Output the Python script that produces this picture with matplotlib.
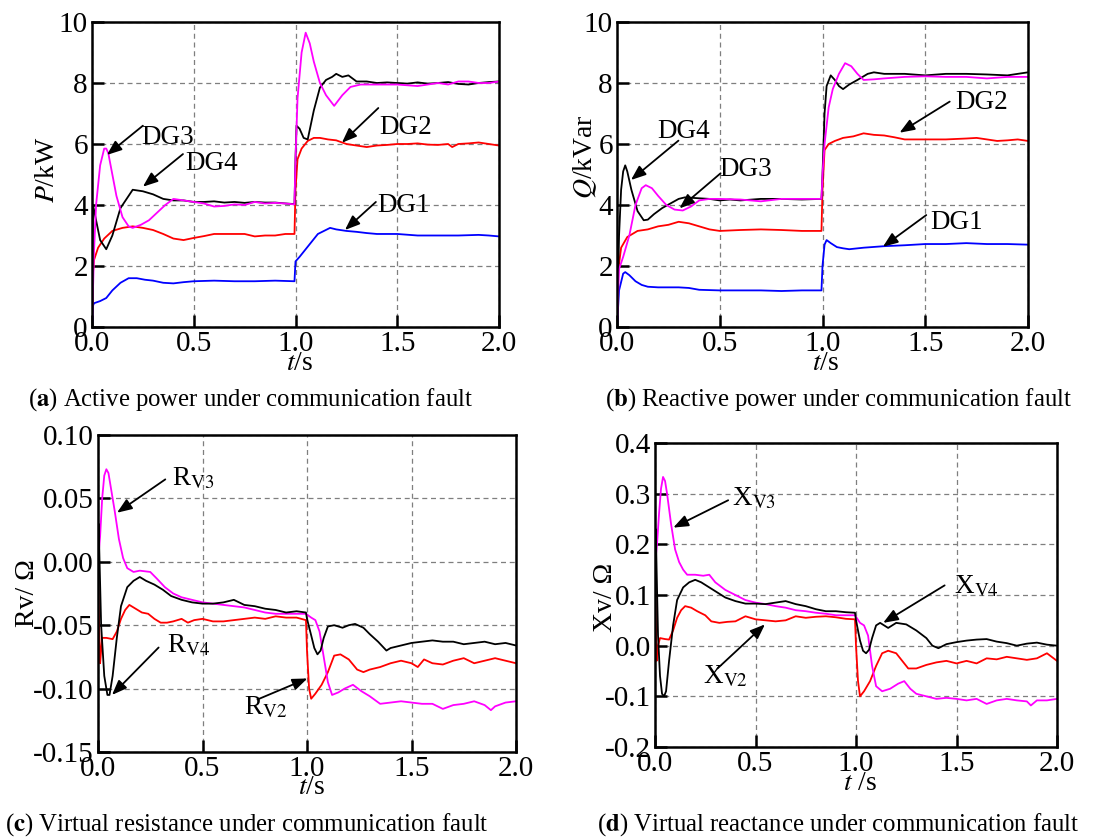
import matplotlib
matplotlib.use("Agg")
import matplotlib.pyplot as plt

# ---- panel (a): active power P/kW ----
a_dg4_t = [0, 0.005, 0.02, 0.04, 0.07, 0.1, 0.14, 0.2, 0.25, 0.3, 0.35, 0.4, 0.45, 0.5, 0.55, 0.6, 0.65, 0.7,
           0.75, 0.8, 0.85, 0.9, 0.95, 0.995, 1.0, 1.005, 1.02, 1.04, 1.06, 1.09, 1.12, 1.15, 1.18, 1.2, 1.23,
           1.26, 1.3, 1.35, 1.4, 1.45, 1.5, 1.55, 1.6, 1.65, 1.7, 1.75, 1.8, 1.85, 1.9, 1.95, 2.0]
a_dg4 = [0, 4.0, 3.5, 2.85, 2.55, 3.0, 3.9, 4.5, 4.45, 4.35, 4.2, 4.15, 4.15, 4.1, 4.1, 4.12, 4.08, 4.1,
         4.07, 4.1, 4.08, 4.08, 4.05, 4.03, 5.5, 6.6, 6.5, 6.2, 6.15, 7.1, 7.85, 8.1, 8.2, 8.3, 8.2,
         8.25, 8.05, 8.05, 8.0, 8.02, 8.0, 7.98, 8.02, 7.98, 8.0, 8.03, 7.97, 7.95, 8.0, 8.03, 8.05]
a_dg3_t = [0, 0.01, 0.02, 0.04, 0.06, 0.07, 0.08, 0.1, 0.12, 0.15, 0.18, 0.2, 0.24, 0.28, 0.32, 0.36, 0.4, 0.45,
           0.5, 0.55, 0.6, 0.65, 0.7, 0.75, 0.8, 0.85, 0.9, 0.95, 0.995, 1.0, 1.01, 1.03, 1.05, 1.07, 1.09, 1.12,
           1.15, 1.19, 1.23, 1.27, 1.32, 1.4, 1.5, 1.6, 1.65, 1.7, 1.75, 1.8, 1.85, 1.9, 1.95, 2.0]
a_dg3 = [0, 2.5, 4.0, 5.3, 5.85, 5.85, 5.7, 5.0, 4.3, 3.6, 3.3, 3.25, 3.35, 3.5, 3.75, 4.0, 4.2, 4.15,
         4.1, 4.05, 3.95, 3.97, 4.02, 4.0, 4.1, 4.05, 4.07, 4.05, 4.02, 5.5, 7.5, 9.0, 9.65, 9.3, 8.7, 8.0,
         7.6, 7.25, 7.6, 7.87, 7.95, 7.95, 7.95, 7.9, 7.95, 8.0, 7.95, 8.05, 8.05, 8.0, 8.0, 8.05]
a_dg2_t = [0, 0.005, 0.01, 0.03, 0.06, 0.1, 0.15, 0.2, 0.25, 0.3, 0.35, 0.4, 0.45, 0.5, 0.55, 0.6, 0.65, 0.7,
           0.75, 0.8, 0.85, 0.9, 0.95, 0.995, 1.0, 1.01, 1.03, 1.06, 1.09, 1.12, 1.16, 1.2, 1.25, 1.3, 1.35,
           1.4, 1.45, 1.5, 1.55, 1.6, 1.65, 1.7, 1.75, 1.77, 1.8, 1.85, 1.9, 1.95, 2.0]
a_dg2 = [0, 1.8, 2.2, 2.6, 2.9, 3.15, 3.25, 3.3, 3.25, 3.18, 3.05, 2.9, 2.85, 2.92, 2.98, 3.05, 3.05, 3.05,
         3.05, 2.97, 3.0, 3.0, 3.05, 3.05, 4.5, 5.5, 5.85, 6.1, 6.2, 6.2, 6.15, 6.12, 6.0, 5.95, 5.9,
         5.95, 5.97, 6.0, 6.0, 6.02, 5.98, 5.97, 6.0, 5.9, 6.0, 6.02, 6.05, 6.0, 5.95]
a_dg1_t = [0, 0.005, 0.01, 0.04, 0.07, 0.1, 0.14, 0.18, 0.22, 0.26, 0.3, 0.35, 0.4, 0.45, 0.5, 0.6, 0.7, 0.8,
           0.9, 0.995, 1.0, 1.02, 1.05, 1.08, 1.11, 1.14, 1.17, 1.2, 1.25, 1.3, 1.35, 1.4, 1.5, 1.6, 1.7,
           1.8, 1.9, 1.95, 2.0]
a_dg1 = [0, 0.7, 0.78, 0.85, 0.95, 1.2, 1.45, 1.6, 1.6, 1.55, 1.52, 1.45, 1.43, 1.47, 1.5, 1.52, 1.5, 1.5,
         1.52, 1.5, 2.15, 2.3, 2.55, 2.8, 3.05, 3.15, 3.25, 3.2, 3.15, 3.12, 3.08, 3.05, 3.05, 3.0, 3.0,
         3.0, 3.02, 3.0, 2.97]

# ---- panel (b): reactive power Q/kVar ----
b_dg4_t = [0, 0.01, 0.02, 0.03, 0.04, 0.05, 0.07, 0.1, 0.13, 0.15, 0.18, 0.22, 0.26, 0.3, 0.33, 0.4, 0.45, 0.5,
           0.55, 0.6, 0.7, 0.8, 0.9, 0.995, 1.0, 1.01, 1.02, 1.04, 1.06, 1.08, 1.1, 1.13, 1.17, 1.22, 1.25,
           1.3, 1.4, 1.5, 1.6, 1.7, 1.8, 1.9, 1.95, 2.0]
b_dg4 = [0, 3.0, 4.5, 5.1, 5.3, 5.1, 4.5, 3.8, 3.5, 3.52, 3.7, 3.9, 4.05, 4.2, 4.25, 4.22, 4.2, 4.15,
         4.18, 4.15, 4.2, 4.2, 4.18, 4.2, 5.0, 7.0, 7.9, 8.25, 8.1, 7.9, 7.8, 7.95, 8.1, 8.3, 8.35,
         8.3, 8.3, 8.25, 8.3, 8.3, 8.28, 8.25, 8.3, 8.35]
b_dg3_t = [0, 0.01, 0.03, 0.06, 0.09, 0.12, 0.14, 0.17, 0.2, 0.24, 0.28, 0.32, 0.36, 0.4, 0.45, 0.5, 0.6, 0.7,
           0.8, 0.9, 0.995, 1.0, 1.01, 1.03, 1.05, 1.08, 1.11, 1.14, 1.17, 1.2, 1.25, 1.3, 1.4, 1.5, 1.6,
           1.7, 1.8, 1.9, 2.0]
b_dg3 = [0, 1.9, 2.3, 3.0, 4.0, 4.55, 4.65, 4.55, 4.3, 4.0, 3.85, 3.82, 3.95, 4.15, 4.2, 4.2, 4.18, 4.12,
         4.2, 4.2, 4.2, 5.0, 6.0, 7.2, 7.8, 8.3, 8.65, 8.55, 8.3, 8.1, 8.12, 8.15, 8.2, 8.22, 8.2,
         8.2, 8.15, 8.2, 8.2]
b_dg2_t = [0, 0.005, 0.02, 0.05, 0.1, 0.15, 0.2, 0.25, 0.3, 0.35, 0.4, 0.45, 0.5, 0.6, 0.7, 0.8, 0.9, 0.995,
           1.0, 1.01, 1.03, 1.06, 1.1, 1.15, 1.2, 1.25, 1.3, 1.35, 1.4, 1.5, 1.6, 1.7, 1.75, 1.8, 1.85,
           1.9, 1.95, 2.0]
b_dg2 = [0, 1.8, 2.6, 2.95, 3.15, 3.2, 3.3, 3.35, 3.45, 3.4, 3.3, 3.2, 3.15, 3.18, 3.2, 3.18, 3.15, 3.15,
         4.5, 5.8, 6.0, 6.1, 6.2, 6.25, 6.35, 6.3, 6.28, 6.22, 6.15, 6.15, 6.15, 6.18, 6.2, 6.15, 6.1,
         6.12, 6.15, 6.1]
b_dg1_t = [0, 0.01, 0.03, 0.04, 0.06, 0.09, 0.12, 0.15, 0.2, 0.3, 0.35, 0.4, 0.5, 0.6, 0.7, 0.8, 0.9, 0.995,
           1.0, 1.01, 1.02, 1.04, 1.07, 1.1, 1.13, 1.2, 1.3, 1.4, 1.5, 1.6, 1.7, 1.8, 1.9, 2.0]
b_dg1 = [0, 1.2, 1.75, 1.8, 1.7, 1.5, 1.38, 1.32, 1.3, 1.3, 1.28, 1.22, 1.2, 1.2, 1.2, 1.18, 1.2, 1.2,
         2.0, 2.7, 2.85, 2.75, 2.62, 2.58, 2.55, 2.6, 2.65, 2.68, 2.72, 2.72, 2.75, 2.72, 2.72, 2.7]

# ---- panel (c): virtual resistance Rv/Ohm ----
c_rv4_t = [0, 0.003, 0.006, 0.015, 0.03, 0.045, 0.055, 0.07, 0.09, 0.11, 0.14, 0.17, 0.2, 0.23, 0.27, 0.31,
           0.35, 0.4, 0.45, 0.5, 0.55, 0.6, 0.65, 0.7, 0.75, 0.8, 0.85, 0.9, 0.95, 0.995, 1.0, 1.02, 1.035,
           1.05, 1.065, 1.08, 1.1, 1.13, 1.17, 1.2, 1.23, 1.27, 1.3, 1.34, 1.38, 1.4, 1.45, 1.5, 1.55, 1.6,
           1.65, 1.7, 1.75, 1.8, 1.85, 1.9, 1.95, 2.0]
c_rv4 = [0.0, 0.03, 0.01, -0.05, -0.09, -0.105, -0.105, -0.09, -0.06, -0.035, -0.02, -0.015, -0.012, -0.015,
         -0.018, -0.022, -0.027, -0.03, -0.032, -0.033, -0.033, -0.032, -0.03, -0.034, -0.035, -0.037, -0.038,
         -0.04, -0.039, -0.04, -0.045, -0.058, -0.068, -0.073, -0.07, -0.06, -0.051, -0.05, -0.052, -0.05,
         -0.049, -0.052, -0.057, -0.063, -0.07, -0.068, -0.066, -0.064, -0.063, -0.062, -0.063, -0.063,
         -0.065, -0.064, -0.063, -0.065, -0.064, -0.066]
c_rv2_t = [0, 0.004, 0.01, 0.015, 0.02, 0.04, 0.07, 0.09, 0.11, 0.13, 0.15, 0.18, 0.21, 0.24, 0.27, 0.3, 0.33,
           0.36, 0.4, 0.43, 0.46, 0.5, 0.55, 0.6, 0.65, 0.7, 0.75, 0.8, 0.85, 0.9, 0.95, 0.995, 1.0, 1.01,
           1.02, 1.04, 1.07, 1.1, 1.13, 1.16, 1.2, 1.24, 1.27, 1.3, 1.35, 1.4, 1.45, 1.5, 1.53, 1.56, 1.6,
           1.65, 1.7, 1.75, 1.8, 1.85, 1.9, 1.95, 2.0]
c_rv2 = [0.0, -0.04, -0.08, -0.07, -0.06, -0.06, -0.061, -0.055, -0.045, -0.038, -0.034, -0.037, -0.04,
         -0.041, -0.045, -0.048, -0.048, -0.047, -0.045, -0.048, -0.046, -0.045, -0.047, -0.047, -0.046,
         -0.045, -0.044, -0.045, -0.043, -0.044, -0.044, -0.046, -0.07, -0.1, -0.108, -0.104, -0.097, -0.087,
         -0.074, -0.073, -0.077, -0.085, -0.087, -0.085, -0.083, -0.08, -0.078, -0.08, -0.083, -0.077, -0.08,
         -0.081, -0.078, -0.076, -0.08, -0.078, -0.076, -0.078, -0.08]
c_rv3_t = [0, 0.01, 0.02, 0.03, 0.04, 0.05, 0.06, 0.08, 0.1, 0.12, 0.14, 0.17, 0.2, 0.25, 0.28, 0.32, 0.36,
           0.4, 0.45, 0.5, 0.55, 0.6, 0.65, 0.7, 0.75, 0.8, 0.85, 0.9, 0.95, 0.995, 1.02, 1.04, 1.06, 1.08,
           1.1, 1.12, 1.15, 1.18, 1.22, 1.26, 1.3, 1.35, 1.4, 1.45, 1.5, 1.55, 1.6, 1.65, 1.7, 1.75, 1.8,
           1.85, 1.88, 1.9, 1.95, 2.0]
c_rv3 = [0.0, 0.02, 0.05, 0.068, 0.073, 0.07, 0.06, 0.04, 0.018, 0.003, -0.005, -0.008, -0.007, -0.008,
         -0.013, -0.02, -0.025, -0.028, -0.03, -0.032, -0.033, -0.034, -0.035, -0.036, -0.038, -0.04, -0.041,
         -0.041, -0.041, -0.041, -0.044, -0.046, -0.055, -0.075, -0.095, -0.105, -0.103, -0.1, -0.097,
         -0.102, -0.106, -0.112, -0.111, -0.11, -0.111, -0.112, -0.112, -0.116, -0.113, -0.112, -0.11,
         -0.113, -0.117, -0.114, -0.111, -0.11]

# ---- panel (d): virtual reactance Xv/Ohm ----
d_xv4_t = [0, 0.004, 0.008, 0.015, 0.025, 0.035, 0.045, 0.055, 0.07, 0.09, 0.11, 0.14, 0.17, 0.2, 0.23, 0.27,
           0.31, 0.35, 0.4, 0.45, 0.5, 0.55, 0.6, 0.65, 0.7, 0.75, 0.8, 0.85, 0.9, 0.95, 0.995, 1.0, 1.02,
           1.035, 1.05, 1.065, 1.08, 1.1, 1.12, 1.16, 1.2, 1.25, 1.3, 1.35, 1.38, 1.41, 1.45, 1.5, 1.55, 1.6,
           1.65, 1.7, 1.75, 1.8, 1.85, 1.9, 1.95, 2.0]
d_xv4 = [0.16, 0.23, 0.15, 0.02, -0.06, -0.095, -0.1, -0.09, -0.03, 0.04, 0.09, 0.115, 0.125, 0.13, 0.125,
         0.115, 0.105, 0.095, 0.088, 0.083, 0.083, 0.082, 0.085, 0.088, 0.082, 0.078, 0.072, 0.068, 0.068,
         0.066, 0.065, 0.05, 0.01, -0.01, -0.015, -0.008, 0.015, 0.04, 0.045, 0.035, 0.045, 0.042, 0.03,
         0.015, 0.0, -0.005, 0.003, 0.007, 0.01, 0.012, 0.013, 0.008, 0.005, 0.0, 0.004, 0.006, 0.002, 0.0]
d_xv2_t = [0, 0.004, 0.008, 0.015, 0.025, 0.05, 0.07, 0.09, 0.11, 0.13, 0.15, 0.18, 0.21, 0.25, 0.28, 0.32,
           0.36, 0.4, 0.45, 0.5, 0.55, 0.6, 0.65, 0.7, 0.75, 0.8, 0.85, 0.9, 0.95, 0.995, 1.0, 1.01, 1.02,
           1.04, 1.07, 1.1, 1.13, 1.16, 1.2, 1.23, 1.26, 1.3, 1.35, 1.4, 1.45, 1.5, 1.55, 1.6, 1.65, 1.7,
           1.75, 1.8, 1.85, 1.9, 1.95, 2.0]
d_xv2 = [0.16, 0.05, -0.03, 0.0, 0.015, 0.013, 0.012, 0.03, 0.055, 0.07, 0.078, 0.075, 0.068, 0.06, 0.048,
         0.045, 0.047, 0.048, 0.058, 0.052, 0.05, 0.048, 0.05, 0.058, 0.055, 0.057, 0.058, 0.056, 0.053,
         0.052, 0.0, -0.07, -0.1, -0.09, -0.07, -0.04, -0.015, -0.01, -0.015, -0.03, -0.045, -0.045, -0.038,
         -0.033, -0.03, -0.035, -0.03, -0.035, -0.025, -0.027, -0.022, -0.025, -0.028, -0.025, -0.015, -0.03]
d_xv3_t = [0, 0.01, 0.02, 0.03, 0.04, 0.05, 0.06, 0.08, 0.1, 0.12, 0.14, 0.16, 0.2, 0.24, 0.27, 0.3, 0.35,
           0.4, 0.45, 0.5, 0.55, 0.6, 0.65, 0.7, 0.75, 0.8, 0.85, 0.9, 0.95, 0.995, 1.02, 1.04, 1.06, 1.08,
           1.1, 1.13, 1.17, 1.21, 1.24, 1.27, 1.3, 1.35, 1.4, 1.45, 1.5, 1.55, 1.6, 1.65, 1.7, 1.75, 1.8,
           1.85, 1.87, 1.9, 1.95, 2.0]
d_xv3 = [0.16, 0.2, 0.26, 0.31, 0.333, 0.325, 0.3, 0.24, 0.19, 0.165, 0.15, 0.14, 0.14, 0.138, 0.14, 0.125,
         0.11, 0.1, 0.09, 0.085, 0.082, 0.078, 0.075, 0.07, 0.068, 0.065, 0.063, 0.06, 0.06, 0.06, 0.045,
         0.04, 0.02, -0.04, -0.08, -0.09, -0.085, -0.075, -0.07, -0.085, -0.095, -0.1, -0.105, -0.103,
         -0.105, -0.108, -0.105, -0.115, -0.108, -0.105, -0.108, -0.11, -0.118, -0.108, -0.108, -0.105]

x_ticks = [0.0, 0.5, 1.0, 1.5, 2.0]
x_labels = ["0.0", "0.5", "1.0", "1.5", "2.0"]
pq_ticks = [0, 2, 4, 6, 8, 10]
pq_labels = ["0", "2", "4", "6", "8", "10"]
r_ticks = [-0.15, -0.10, -0.05, 0.0, 0.05, 0.10]
r_labels = ["-0.15", "-0.10", "-0.05", "0.00", "0.05", "0.10"]
x_ticks_d = [-0.2, -0.1, 0.0, 0.1, 0.2, 0.3, 0.4]
x_labels_d = ["-0.2", "-0.1", "0.0", "0.1", "0.2", "0.3", "0.4"]

plt.rcParams["font.family"] = ["Liberation Serif", "STIXGeneral", "DejaVu Serif"]
plt.rcParams["mathtext.fontset"] = "stix"

W, H = 1118, 839
fig = plt.figure(figsize=(W / 100, H / 100), dpi=100)

BLUE, RED, BLACK, MAG = "#0000ff", "#ff0000", "#000000", "#ff00ff"
ARROW = dict(arrowstyle="-|>,head_length=0.9,head_width=0.35", color="k", lw=1.3,
             shrinkA=0, shrinkB=0, mutation_scale=10)
TICK_FS = 21
LAB_FS = 20
CAP_FS = 17.8


def px_axes(l, t, r, b):
    return fig.add_axes([l / W, 1 - b / H, (r - l) / W, (b - t) / H])


def style(ax, ylim, yticks, ylabels):
    ax.set_xlim(0, 2)
    ax.set_ylim(*ylim)
    ax.set_xticks(x_ticks)
    ax.set_xticklabels(x_labels)
    ax.set_yticks(yticks)
    ax.set_yticklabels(ylabels)
    ax.grid(True, color="#7f7f7f", ls=(0, (4, 3)), lw=0.9)
    ax.tick_params(direction="in", length=8.5, width=1.8, labelsize=TICK_FS, pad=3)
    for s in ax.spines.values():
        s.set_linewidth(1.8)


def ftext(x, y, s, **kw):
    fig.text(x / W, 1 - y / H, s, **kw)


def label(ax, x, y, s, tail, head, ha="center"):
    ax.text(x, y, s, fontsize=19.5, ha=ha, va="center")
    ax.annotate("", xy=head, xytext=tail, arrowprops=ARROW)


# (a)
ax = px_axes(92, 22, 499, 327)
ax.plot(a_dg1_t, a_dg1, color=BLUE, lw=1.3)
ax.plot(a_dg2_t, a_dg2, color=RED, lw=1.3)
ax.plot(a_dg4_t, a_dg4, color=BLACK, lw=1.3)
ax.plot(a_dg3_t, a_dg3, color=MAG, lw=1.3)
style(ax, (0, 10), pq_ticks, pq_labels)
label(ax, 0.373, 6.2, "DG3", (0.25, 6.6), (0.073, 5.64))
label(ax, 0.59, 5.35, "DG4", (0.447, 5.67), (0.25, 4.6))
label(ax, 1.54, 6.55, "DG2", (1.407, 7.18), (1.228, 6.04))
label(ax, 1.53, 4.0, "DG1", (1.395, 4.1), (1.243, 3.18))
ftext(48, 170, r"$P$/kW", fontsize=LAB_FS, rotation=90, ha="center", va="center")
ftext(300, 364, r"$t$/s", fontsize=LAB_FS, ha="center", va="center")
ftext(28, 400, r"($\mathbf{a}$) Active power under communication fault", fontsize=CAP_FS, va="center")

# (b)
ax = px_axes(617, 22, 1028, 327)
ax.plot(b_dg1_t, b_dg1, color=BLUE, lw=1.3)
ax.plot(b_dg2_t, b_dg2, color=RED, lw=1.3)
ax.plot(b_dg4_t, b_dg4, color=BLACK, lw=1.3)
ax.plot(b_dg3_t, b_dg3, color=MAG, lw=1.3)
style(ax, (0, 10), pq_ticks, pq_labels)
label(ax, 0.325, 6.4, "DG4", (0.299, 6.11), (0.068, 4.82))
label(ax, 0.628, 5.17, "DG3", (0.504, 5.04), (0.304, 3.89))
label(ax, 1.773, 7.36, "DG2", (1.619, 7.39), (1.375, 6.37))
label(ax, 1.654, 3.42, "DG1", (1.505, 3.67), (1.294, 2.63))
ftext(585, 157, r"$Q$/kVar", fontsize=LAB_FS, rotation=90, ha="center", va="center")
ftext(826, 364, r"$t$/s", fontsize=LAB_FS, ha="center", va="center")
ftext(605, 400, r"($\mathbf{b}$) Reactive power under communication fault", fontsize=CAP_FS, va="center")

# (c)
ax = px_axes(98, 435, 516, 752)
ax.plot(c_rv2_t, c_rv2, color=RED, lw=1.3)
ax.plot(c_rv3_t, c_rv3, color=MAG, lw=1.3)
ax.plot(c_rv4_t, c_rv4, color=BLACK, lw=1.3)
style(ax, (-0.15, 0.10), r_ticks, r_labels)
label(ax, 0.355, 0.066, r"R$_{\mathrm{V3}}$", (0.322, 0.065), (0.091, 0.0387), ha="left")
label(ax, 0.33, -0.066, r"R$_{\mathrm{V4}}$", (0.29, -0.0676), (0.067, -0.105), ha="left")
label(ax, 0.70, -0.115, r"R$_{\mathrm{V2}}$", (0.763, -0.1086), (1.002, -0.092), ha="left")
ftext(28, 593, "Rv/ Ω", fontsize=LAB_FS, rotation=90, ha="center", va="center")
ftext(312, 788, r"$t$/s", fontsize=LAB_FS, ha="center", va="center")
ftext(5, 825, r"($\mathbf{c}$) Virtual resistance under communication fault", fontsize=CAP_FS, va="center")

# (d)
ax = px_axes(655, 443, 1057, 747)
ax.plot(d_xv2_t, d_xv2, color=RED, lw=1.3)
ax.plot(d_xv3_t, d_xv3, color=MAG, lw=1.3)
ax.plot(d_xv4_t, d_xv4, color=BLACK, lw=1.3)
style(ax, (-0.2, 0.4), x_ticks_d, x_labels_d)
label(ax, 0.385, 0.29, r"X$_{\mathrm{V3}}$", (0.364, 0.287), (0.091, 0.233), ha="left")
label(ax, 1.49, 0.116, r"X$_{\mathrm{V4}}$", (1.441, 0.119), (1.135, 0.045), ha="left")
label(ax, 0.24, -0.062, r"X$_{\mathrm{V2}}$", (0.311, -0.045), (0.547, 0.042), ha="left")
ftext(605, 597, "Xv/ Ω", fontsize=LAB_FS, rotation=90, ha="center", va="center")
ftext(860, 783, r"$t$ /s", fontsize=LAB_FS, ha="center", va="center")
ftext(597, 825, r"($\mathbf{d}$) Virtual reactance under communication fault", fontsize=CAP_FS, va="center")

fig.savefig("out.png", dpi=100)
